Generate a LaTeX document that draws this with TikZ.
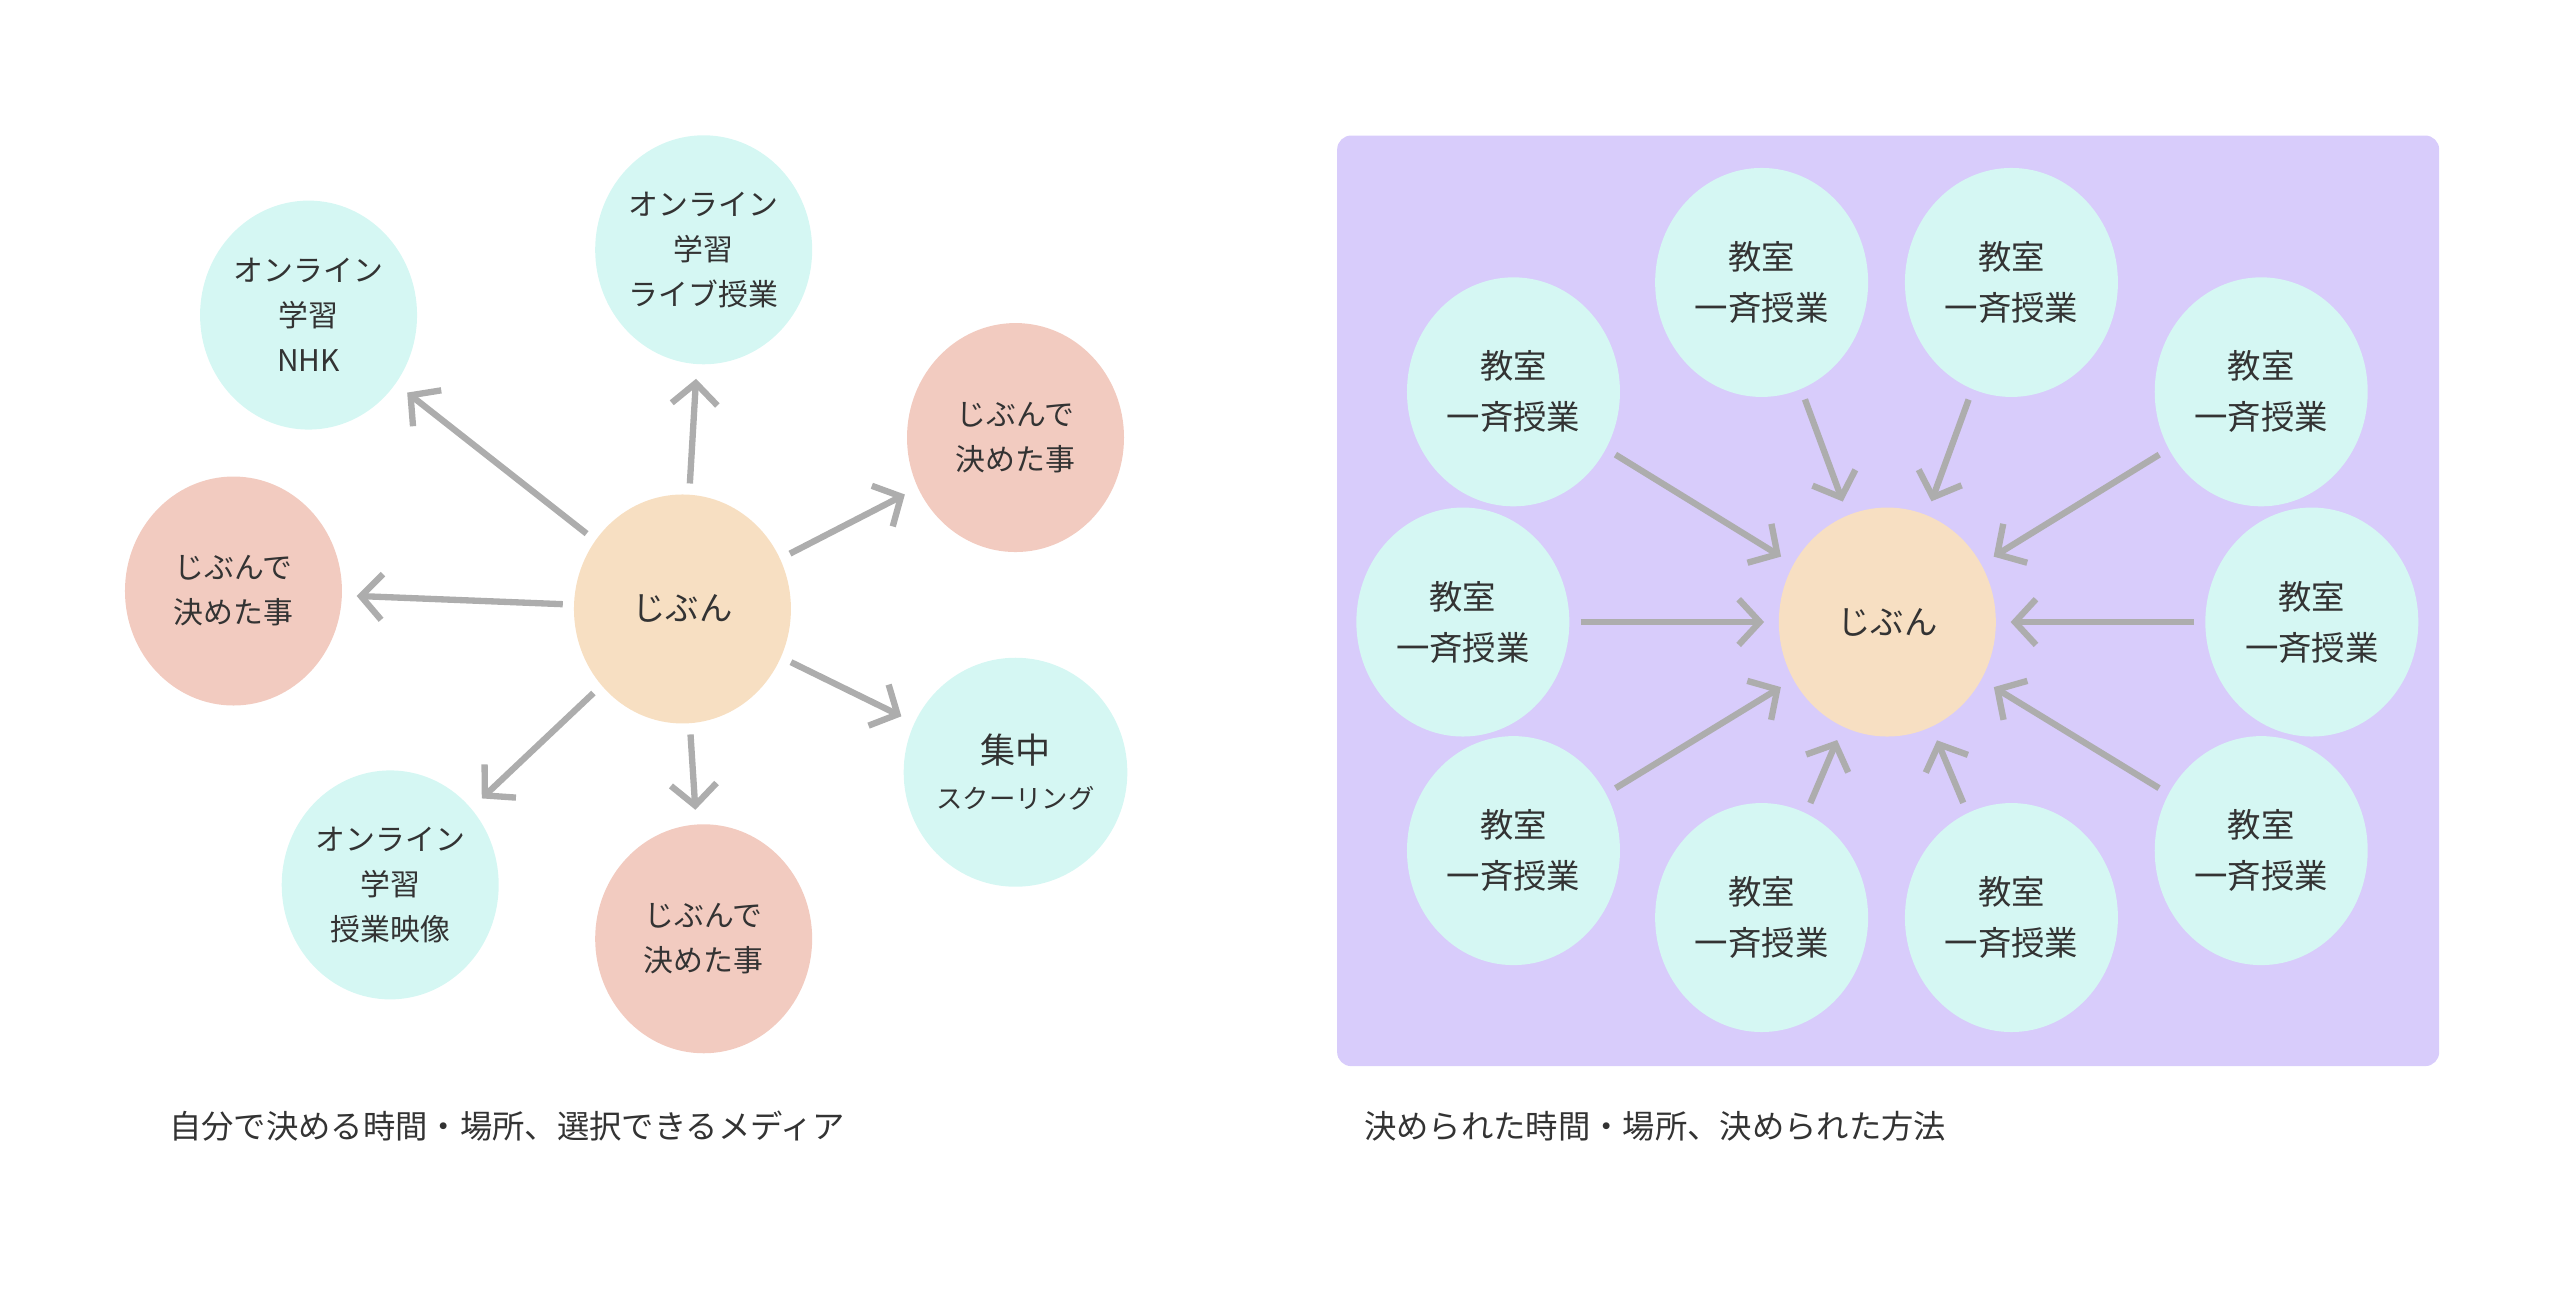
\documentclass[tikz,border=0pt]{standalone}
\usepackage{fontspec}
\setmainfont{Noto Sans CJK JP}
\usetikzlibrary{arrows.meta,shapes.geometric}
\definecolor{teal}{HTML}{D5F7F3}
\definecolor{peach}{HTML}{F7DFC2}
\definecolor{rose}{HTML}{F2CBC0}
\definecolor{lilac}{HTML}{D8CCFB}
\definecolor{arrowgray}{HTML}{ADADAD}
\definecolor{ink}{HTML}{333333}
\begin{document}
\begin{tikzpicture}[x=0.01633cm,y=-0.01633cm,
    bubble/.style={ellipse,minimum width=2.17cm,minimum height=2.29cm,inner sep=0pt,align=center,text=ink,font=\fontsize{8.5}{12.8}\selectfont},
    media/.style={bubble,fill=teal},
    self/.style={bubble,fill=rose},
    core/.style={bubble,fill=peach,font=\fontsize{9.5}{14}\selectfont},
    room/.style={bubble,fill=teal,minimum width=2.13cm,font=\fontsize{9.5}{14.5}\selectfont},
    link/.style={draw=arrowgray,line width=1.8pt,-{Straight Barb[length=6pt,width=13pt,line width=1.8pt]},shorten <=3pt,shorten >=4pt}]
  \useasboundingbox (0,0) rectangle (1568,789);
  % left: chosen by oneself
  \node[core] (me) at (418,373) {じぶん};
  \node[media] (nhk) at (189,193) {オンライン\\学習\\NHK};
  \node[media] (live) at (431,153) {オンライン\\学習\\ライブ授業};
  \node[self] (ownA) at (622,268) {じぶんで\\決めた事};
  \node[self] (ownB) at (143,362) {じぶんで\\決めた事};
  \node[media] (focus) at (622,473) {{\fontsize{10}{14}\selectfont 集中}\\{\fontsize{7.5}{11}\selectfont スクーリング}};
  \node[self] (ownC) at (431,575) {じぶんで\\決めた事};
  \node[media] (video) at (239,542) {オンライン\\学習\\授業映像};
  \foreach \t in {nhk,live,ownA,ownB,focus,ownC,video}
    \draw[link] (me) -- (\t);
  \node[anchor=west,text=ink,font=\fontsize{9.2}{12}\selectfont] (capL) at (96,690) {自分で決める時間・場所、選択できるメディア};
  % right: decided by others
  \fill[lilac,rounded corners=4pt] (819,83) rectangle (1494,653);
  \node[core] (you) at (1156,381) {じぶん};
  \foreach \n/\x/\y in {r1/927/240,r2/1079/173,r3/1232/173,r4/1385/240,r5/896/381,
                        r6/1416/381,r7/927/521,r8/1079/562,r9/1232/562,r10/1385/521}{
    \node[room] (\n) at (\x,\y) {教室\\一斉授業};
    \draw[link] (\n) -- (you);
  }
  \node[anchor=west,text=ink,font=\fontsize{9.2}{12}\selectfont] (capR) at (828,690) {決められた時間・場所、決められた方法};
\end{tikzpicture}
\end{document}
